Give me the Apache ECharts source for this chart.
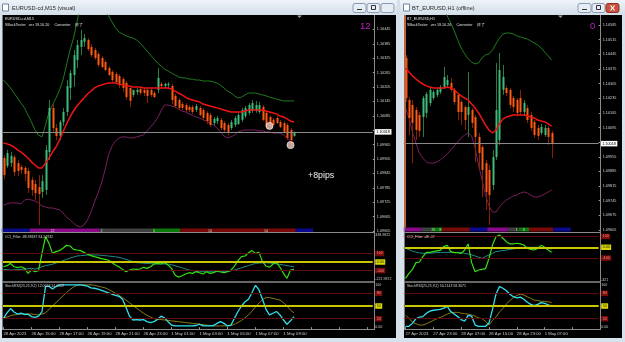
<!DOCTYPE html>
<html><head><meta charset="utf-8">
<script src="https://cdn.jsdelivr.net/npm/echarts@6/dist/echarts.min.js"></script>
<style>html,body{margin:0;padding:0;background:#d5dfea;overflow:hidden}#c{width:625px;height:342px}</style>
</head><body><div id="c"></div>
<script>
// ---------------- DATA ----------------
const BASE = 1.09605;
// Left: EURUSD-cd M15, bars [open, high, low, close]
const leftOHLC = [
[1.09909,1.09922,1.09822,1.09838],[1.09876,1.09943,1.09868,1.09930],[1.09888,1.09934,1.09872,1.09918],[1.09913,1.09922,1.09834,1.09851],
[1.09888,1.09901,1.09834,1.09855],[1.09872,1.09880,1.09843,1.09859],[1.09868,1.09876,1.09813,1.09843],[1.09855,1.09868,1.09763,1.09784],
[1.09818,1.09830,1.09751,1.09776],[1.09801,1.09818,1.09734,1.09763],[1.09788,1.09838,1.09630,1.09759],[1.09768,1.09838,1.09743,1.09813],
[1.09776,1.09963,1.09755,1.09943],[1.09934,1.10151,1.09901,1.10118],[1.10118,1.10134,1.10018,1.10034],[1.10034,1.10051,1.09984,1.10001],
[1.10001,1.10068,1.09984,1.10059],[1.10059,1.10118,1.10043,1.10101],[1.10101,1.10234,1.10084,1.10209],[1.10201,1.10276,1.10151,1.10263],
[1.10255,1.10359,1.10205,1.10338],[1.10318,1.10401,1.10284,1.10380],[1.10372,1.10443,1.10338,1.10401],[1.10393,1.10426,1.10372,1.10409],
[1.10401,1.10409,1.10355,1.10363],[1.10372,1.10384,1.10330,1.10338],[1.10359,1.10368,1.10318,1.10326],[1.10343,1.10351,1.10288,1.10297],
[1.10326,1.10334,1.10284,1.10288],[1.10309,1.10318,1.10272,1.10276],[1.10284,1.10293,1.10251,1.10255],[1.10268,1.10276,1.10226,1.10234],
[1.10259,1.10268,1.10218,1.10226],[1.10251,1.10259,1.10201,1.10213],[1.10238,1.10247,1.10184,1.10201],[1.10222,1.10230,1.10151,1.10163],
[1.10201,1.10209,1.10122,1.10147],[1.10172,1.10184,1.10163,1.10193],[1.10184,1.10201,1.10172,1.10193],[1.10197,1.10205,1.10172,1.10180],
[1.10193,1.10201,1.10168,1.10180],[1.10193,1.10201,1.10138,1.10168],[1.10193,1.10201,1.10163,1.10172],[1.10180,1.10188,1.10159,1.10163],
[1.10193,1.10284,1.10180,1.10243],[1.10218,1.10226,1.10201,1.10209],[1.10209,1.10222,1.10197,1.10218],[1.10213,1.10226,1.10201,1.10218],
[1.10209,1.10218,1.10134,1.10151],[1.10168,1.10176,1.10118,1.10126],[1.10151,1.10159,1.10109,1.10118],[1.10134,1.10143,1.10109,1.10118],
[1.10130,1.10138,1.10101,1.10109],[1.10122,1.10130,1.10101,1.10109],[1.10122,1.10130,1.10093,1.10101],[1.10109,1.10134,1.10101,1.10126],
[1.10118,1.10126,1.10084,1.10088],[1.10109,1.10118,1.10068,1.10076],[1.10097,1.10105,1.10051,1.10063],[1.10088,1.10097,1.10038,1.10047],
[1.10055,1.10080,1.10043,1.10072],[1.10063,1.10084,1.10051,1.10076],[1.10068,1.10076,1.10026,1.10034],[1.10055,1.10063,1.10018,1.10026],
[1.10047,1.10055,1.10005,1.10018],[1.10034,1.10068,1.10026,1.10059],[1.10047,1.10084,1.10038,1.10076],[1.10051,1.10097,1.10047,1.10088],
[1.10068,1.10118,1.10059,1.10109],[1.10084,1.10126,1.10076,1.10118],[1.10097,1.10138,1.10088,1.10130],[1.10105,1.10151,1.10097,1.10138],
[1.10105,1.10147,1.10097,1.10130],[1.10101,1.10143,1.10093,1.10130],[1.10122,1.10130,1.10063,1.10068],[1.10097,1.10105,1.10034,1.10043],
[1.10080,1.10088,1.10030,1.10038],[1.10068,1.10076,1.10043,1.10047],[1.10076,1.10084,1.10051,1.10055],[1.10059,1.10068,1.10034,1.10038],
[1.10055,1.10063,1.10013,1.10018],[1.10047,1.10055,1.09984,1.09993],[1.10026,1.10034,1.09959,1.09984],[1.10001,1.10018,1.09997,1.10018]
];
const leftMA = [1.09972,1.09968,1.09963,1.09955,1.09943,1.09934,1.09922,1.09909,1.09893,1.09880,
1.09868,1.09868,1.09888,1.09909,1.09934,1.09955,1.09984,1.10018,1.10051,1.10080,
1.10105,1.10126,1.10143,1.10159,1.10176,1.10188,1.10201,1.10209,1.10213,1.10218,
1.10222,1.10222,1.10222,1.10218,1.10213,1.10209,1.10209,1.10205,1.10205,1.10205,
1.10201,1.10201,1.10201,1.10201,1.10201,1.10201,1.10201,1.10201,1.10197,1.10188,
1.10180,1.10172,1.10163,1.10155,1.10151,1.10147,1.10143,1.10134,1.10130,1.10126,
1.10122,1.10118,1.10113,1.10109,1.10105,1.10101,1.10101,1.10101,1.10101,1.10105,
1.10109,1.10109,1.10109,1.10109,1.10109,1.10105,1.10101,1.10097,1.10093,1.10084,
1.10080,1.10072,1.10063,1.10059];
const leftUpper = [1.10234,1.10218,1.10201,1.10180,1.10159,1.10138,1.10118,1.10088,1.10059,1.10026,
1.10005,1.09997,1.10047,1.10101,1.10130,1.10159,1.10193,1.10234,1.10297,1.10359,
1.10409,1.10476,1.10547,1.10588,1.10618,1.10630,1.10618,1.10588,1.10555,1.10526,
1.10501,1.10476,1.10451,1.10434,1.10426,1.10418,1.10413,1.10409,1.10401,1.10388,
1.10372,1.10355,1.10338,1.10322,1.10305,1.10293,1.10280,1.10272,1.10263,1.10255,
1.10247,1.10243,1.10243,1.10238,1.10238,1.10234,1.10234,1.10230,1.10230,1.10230,
1.10226,1.10222,1.10213,1.10201,1.10188,1.10180,1.10168,1.10159,1.10163,1.10172,
1.10180,1.10180,1.10180,1.10176,1.10172,1.10168,1.10163,1.10159,1.10155,1.10151,
1.10147,1.10147,1.10147,1.10147];
const leftLower = [1.09713,1.09718,1.09722,1.09722,1.09722,1.09718,1.09734,1.09738,1.09734,1.09730,
1.09722,1.09709,1.09705,1.09701,1.09701,1.09697,1.09693,1.09680,1.09663,1.09651,
1.09638,1.09626,1.09622,1.09630,1.09651,1.09684,1.09726,1.09763,1.09805,1.09859,
1.09922,1.09959,1.09980,1.09993,1.09997,1.09997,1.09993,1.09993,1.09997,1.10001,
1.10005,1.10022,1.10038,1.10055,1.10076,1.10105,1.10130,1.10130,1.10126,1.10122,
1.10113,1.10105,1.10101,1.10093,1.10088,1.10080,1.10076,1.10068,1.10063,1.10055,
1.10047,1.10034,1.10018,1.10001,1.09993,1.09997,1.10005,1.10018,1.10022,1.10026,
1.10026,1.10026,1.10026,1.10022,1.10022,1.10018,1.10018,1.10013,1.10013,1.10013,
1.10005,1.09993,1.09980,1.09972];
const leftSignals = [[76, 1.10043], [82, 1.09963]];
const leftCCI = [-55,-43,-16,-55,-66,-55,-74,-133,-94,-113,-101,101,296,218,101,121,133,160,195,187,
148,140,133,113,90,74,62,51,39,31,20,-8,-35,-55,-86,-113,-94,-82,-86,-82,
-62,-74,-55,-23,-16,-23,-8,-35,-74,-152,-179,-160,-140,-125,-133,-113,-125,-140,-113,-133,
-125,-105,-117,-125,-113,-94,-47,16,62,70,109,133,101,113,4,-47,-62,-23,-8,-62,-133,-191,-94,-86];
const leftCCISig = [-86,-90,-94,-92,-88,-86,-82,-78,-74,-84,-70,-55,-42,-35,-26,-12,0,15,31,45,
58,70,74,78,82,83,83,82,78,74,70,65,60,55,43,31,18,5,-8,-11,
-14,-16,-19,-21,-23,-23,-23,-23,-33,-44,-55,-68,-81,-94,-100,-107,-113,-113,-113,-113,
-113,-113,-113,-113,-113,-104,-94,-81,-68,-55,-42,-29,-16,-13,-10,-8,-12,-16,-22,-28,-35,-42,-49,-55];
const leftStoch = [21,34,44,36,31,33,30,31,25,23,26,37,96,97,90,96,100,100,100,100,
100,100,100,99,97,93,92,90,87,84,81,78,75,73,66,47,26,17,18,17,
18,13,11,13,18,26,22,13,5,3,3,3,3,3,3,4,7,3,3,3,
4,9,13,9,3,5,21,37,50,60,66,82,99,88,66,42,29,33,37,29,17,7,15,25];
const leftStochSig = [21,24,27,29,30,31,31,31,31,30,29,31,34,42,50,58,66,74,82,89,
95,99,100,100,100,100,99,97,95,93,89,85,80,75,70,64,58,51,45,39,
33,28,24,20,19,18,17,16,15,14,13,12,11,10,9,8,7,6,5,4,
3,3,3,3,3,4,7,11,16,22,29,38,48,57,65,70,70,68,66,64,58,50,40,34];
const leftTimeLabels = ['28 Apr 2023','28 Apr 15:00','28 Apr 17:00','28 Apr 19:00','28 Apr 21:00','28 Apr 23:00',
  '1 May 01:00','1 May 03:00','1 May 05:00','1 May 07:00','1 May 09:00'];
// session strip: [start bar, end bar, kind]
const leftSegments = [[0,8,0],[8,28,1],[28,43,2],[43,51,3],[51,84,4],[84,89,0]];
const leftSegLabelPos = [14, 28, 43, 59, 75];
const leftSegLabelText = ['22', '2', '5', '10', '14'];
const leftCCIRange = [-221.9872, 338.9825];

// Right: BT_EURUSD H1
const rightOHLC = [
[1.10428,1.10442,1.10217,1.10236],[1.10227,1.10241,1.10059,1.10141],[1.10203,1.10227,1.09925,1.10117],[1.10179,1.10193,1.10035,1.10083],
[1.10155,1.10169,1.10050,1.10079],[1.10145,1.10246,1.10050,1.10236],[1.10165,1.10265,1.10141,1.10255],[1.10212,1.10284,1.10198,1.10275],
[1.10236,1.10275,1.10227,1.10265],[1.10251,1.10284,1.10241,1.10275],[1.10265,1.10298,1.10255,1.10289],[1.10289,1.10385,1.10279,1.10337],
[1.10298,1.10346,1.10284,1.10322],[1.10308,1.10332,1.10265,1.10275],[1.10275,1.10284,1.10203,1.10217],[1.10251,1.10260,1.10131,1.10169],
[1.10217,1.10227,1.10107,1.10169],[1.10193,1.10203,1.10083,1.10131],[1.10155,1.10361,1.10050,1.10193],[1.10179,1.10188,1.10093,1.10117],
[1.10145,1.10155,1.09930,1.10050],[1.10050,1.10069,1.09892,1.09973],[1.10002,1.10012,1.09763,1.09892],[1.09925,1.09940,1.09701,1.09787],
[1.09892,1.09916,1.09629,1.09772],[1.09820,1.09988,1.09796,1.09954],[1.09954,1.10404,1.09940,1.10179],[1.10035,1.10452,1.10012,1.10370],
[1.10275,1.10394,1.10251,1.10337],[1.10284,1.10294,1.10246,1.10260],[1.10275,1.10284,1.10188,1.10203],[1.10236,1.10246,1.10169,1.10193],
[1.10227,1.10236,1.10150,1.10165],[1.10236,1.10275,1.10155,1.10169],[1.10169,1.10227,1.10155,1.10212],[1.10188,1.10203,1.10117,1.10131],
[1.10155,1.10169,1.10079,1.10093],[1.10122,1.10131,1.10045,1.10059],[1.10093,1.10107,1.10035,1.10055],[1.10069,1.10112,1.10059,1.10098],
[1.10059,1.10107,1.10050,1.10093],[1.10093,1.10102,1.10012,1.10050],[1.10069,1.10079,1.09949,1.10018]
];
const rightMA = [1.10380,1.10361,1.10342,1.10327,1.10313,1.10303,1.10294,1.10289,1.10284,1.10284,
1.10284,1.10284,1.10289,1.10284,1.10275,1.10260,1.10246,1.10236,1.10227,1.10208,
1.10188,1.10165,1.10136,1.10107,1.10083,1.10069,1.10083,1.10112,1.10136,1.10145,
1.10150,1.10155,1.10155,1.10155,1.10155,1.10150,1.10145,1.10141,1.10131,1.10126,
1.10122,1.10112,1.10102];
const rightUpper = [1.10992,1.10968,1.10944,1.10915,1.10882,1.10848,1.10810,1.10777,1.10743,1.10710,
1.10681,1.10657,1.10628,1.10595,1.10557,1.10514,1.10475,1.10447,1.10423,1.10408,
1.10399,1.10404,1.10428,1.10442,1.10447,1.10466,1.10495,1.10523,1.10542,1.10547,
1.10547,1.10542,1.10533,1.10528,1.10523,1.10518,1.10509,1.10499,1.10490,1.10475,
1.10456,1.10437,1.10418];
const rightLower = [1.10188,1.10141,1.10074,1.10021,1.09973,1.09949,1.09930,1.09925,1.09925,1.09930,
1.09940,1.09954,1.09968,1.09988,1.10007,1.10026,1.10045,1.10059,1.10069,1.10055,
1.09997,1.09916,1.09844,1.09772,1.09720,1.09691,1.09691,1.09715,1.09734,1.09748,
1.09758,1.09768,1.09772,1.09782,1.09787,1.09782,1.09772,1.09763,1.09763,1.09768,
1.09777,1.09787,1.09796];
const rightCCI = [-287,-241,-204,-142,-136,-87,-47,-47,-40,-34,-28,6,18,-40,-50,-50,-56,-25,31,-142,
-226,-210,-204,-198,-102,21,98,114,83,52,31,31,37,31,21,-10,-19,-25,-10,18,0,-25,-47];
const rightCCISig = [-10,-22,-35,-45,-52,-56,-56,-55,-52,-50,-48,-47,-47,-47,-47,-48,-50,-56,-62,-70,
-81,-92,-102,-85,-71,-56,-40,-35,-30,-25,-20,-15,-10,-5,-2,0,0,0,0,-2,-5,-10,-17];
const rightStoch = [2,2,9,20,24,25,33,38,40,41,42,45,49,37,31,25,18,14,28,26,
5,2,2,2,10,42,78,96,92,86,78,72,69,71,66,59,54,51,54,58,56,53,50];
const rightStochSig = [28,21,12,8,5,5,8,12,16,20,23,27,31,34,35,35,33,32,31,29,
26,22,20,14,5,16,24,36,44,55,63,70,75,78,76,72,68,64,63,61,61,60,58];
const rightTimeLabels = ['27 Apr 2023','27 Apr 23:00','28 Apr 07:00','28 Apr 15:00','28 Apr 23:00','1 May 07:00'];
const rightSegments = [[0,5,1],[5,8,2],[8,11,3],[11,19,4],[19,24,0],[24,30,1],[30,33,2],[33,36,3],[36,43,4],[43,48,0]];
const rightSegLabelPos = [8, 10, 32, 34];
const rightSegLabelText = ['20', '8', '1', '8'];
const rightCCIRange = [-321, 132];
const stochRange = [-4.3, 104.4];

// ---------------- RENDER ----------------
const FONT = '"Liberation Sans", Arial, sans-serif';
const SEG_COLORS = ['#0a0a8c', '#8a0a8a', '#404040', '#0a7a0a', '#7a0a0a'];
const BASE_I = Math.round(BASE * 1e5);
const toPts = p => Math.round((p - BASE) * 1e6) / 10;
const fmtPrice = v => ((BASE_I + v) / 1e5).toFixed(5);

function candleRender(params, api) {
  const i = api.value(0), o = api.value(1), h = api.value(2), l = api.value(3), c = api.value(4);
  const po = api.coord([i, o]), ph = api.coord([i, h]), pl = api.coord([i, l]), pc = api.coord([i, c]);
  const x = Math.round(po[0]);
  const bull = c >= o;
  const top = Math.min(po[1], pc[1]), bot = Math.max(po[1], pc[1]);
  return {type: 'group', children: [
    {type: 'line', shape: {x1: x + 0.5, y1: ph[1], x2: x + 0.5, y2: pl[1]},
     style: {stroke: bull ? '#2a7a45' : '#8a2200', lineWidth: 1}},
    {type: 'rect', shape: {x: x - 0.5, y: top, width: 2, height: Math.max(1, bot - top)},
     style: {fill: bull ? '#3dbb7a' : '#ff5a12'}}
  ]};
}
function segRender(params, api) {
  const s = api.value(0), e = api.value(1), k = api.value(2);
  const w = api.size([1, 0])[0];
  const cs = params.coordSys;
  const x1 = api.coord([s, 0])[0] - w / 2;
  const x2 = api.coord([e - 1, 0])[0] + w / 2;
  return {type: 'rect', shape: {x: x1, y: cs.y + cs.height - 2.5, width: x2 - x1, height: 4},
          style: {fill: SEG_COLORS[k]}};
}
function makeSegLabel(texts) {
  return function (params, api) {
    const p = api.coord([api.value(0), 0]);
    const cs = params.coordSys;
    return {type: 'text', x: p[0], y: cs.y + cs.height - 0.5,
      style: {text: texts[params.dataIndex], fill: '#d0d0d0', font: '3.6px "Liberation Sans"',
              align: 'center', verticalAlign: 'middle', textAlign: 'center', textVerticalAlign: 'middle'}};
  };
}
function timeFmt(labels) {
  return (val, idx) => (idx % 8 === 0 && labels[idx / 8]) ? labels[idx / 8] : '';
}
function xa(grid, n, labels) {
  const cats = Array.from({length: n}, (_, i) => i);
  return {type: 'category', gridIndex: grid, data: cats, boundaryGap: true,
    axisLine: {show: false}, splitLine: {show: false},
    axisTick: labels ? {show: true, alignWithLabel: true, interval: (i) => i % 8 === 0, length: 2,
                        lineStyle: {color: '#9a9a9a'}} : {show: false},
    axisLabel: labels ? {show: true, interval: 0, formatter: timeFmt(labels), align: 'left', margin: 2.5,
                        fontSize: 4.2, color: '#c8c8c8', fontFamily: FONT, hideOverlap: false} : {show: false}};
}
function priceAxis(grid, max, interval, curPts) {
  return {type: 'value', gridIndex: grid, position: 'right', min: 0, max: max, interval: interval,
    splitLine: {show: false}, axisLine: {show: false},
    axisTick: {show: true, length: 2, lineStyle: {color: '#9a9a9a'}},
    axisLabel: {show: true, showMaxLabel: false, showMinLabel: true, margin: 4, fontSize: 3.8, color: '#d2d2d2',
      fontFamily: FONT, formatter: v => Math.abs(v - curPts) < 15 ? '' : fmtPrice(v)}};
}
function hiddenAxis(grid, range) {
  return {type: 'value', gridIndex: grid, min: range[0], max: range[1], show: false,
          splitLine: {show: false}};
}
function lineS(xi, yi, data, color, width, z, extra) {
  return Object.assign({type: 'line', xAxisIndex: xi, yAxisIndex: yi, data: data, showSymbol: false,
    symbol: 'none', silent: true, clip: true, z: z, lineStyle: {color: color, width: width}}, extra || {});
}
const boxRed = {show: true, position: 'end', distance: 2.5, backgroundColor: '#7a0c0c', color: '#ff9090',
  fontSize: 3.6, fontFamily: FONT, padding: [1, 1.5, 0.5, 1.5]};
const boxYel = {show: true, position: 'end', distance: 2.5, backgroundColor: '#d8d800', color: '#202000',
  fontSize: 3.6, fontFamily: FONT, padding: [1, 1.5, 0.5, 1.5]};
const plainLbl = {show: true, position: 'end', distance: 2.5, color: '#c8c8c8', fontSize: 3.6, fontFamily: FONT};
const redLine = {color: '#5e0c0c', width: 1, type: 'solid'};
const yelLine = {color: '#c8c800', width: 2, type: 'solid'};
const noLine = {color: 'rgba(0,0,0,0)', width: 0};
function levelMark(items) {
  return {silent: true, symbol: 'none', animation: false, precision: 4, data: items};
}
function cciLevels(range) {
  return levelMark([
    {yAxis: 100, lineStyle: redLine, label: Object.assign({}, boxRed, {formatter: '100'})},
    {yAxis: 0, lineStyle: yelLine, label: Object.assign({}, boxYel, {formatter: '0.00'})},
    {yAxis: -100, lineStyle: redLine, label: Object.assign({}, boxRed, {formatter: '-100'})},
    {yAxis: range[1], lineStyle: noLine, label: Object.assign({}, plainLbl, {formatter: range[1] > 200 ? String(range[1]) : '', verticalAlign: 'top'})},
    {yAxis: range[0], lineStyle: noLine, label: Object.assign({}, plainLbl, {formatter: String(range[0]), verticalAlign: 'bottom'})}
  ]);
}
function stochLevels() {
  return levelMark([
    {yAxis: 80, lineStyle: redLine, label: Object.assign({}, boxRed, {formatter: '80'})},
    {yAxis: 50, lineStyle: yelLine, label: Object.assign({}, boxYel, {formatter: '50'})},
    {yAxis: 20, lineStyle: redLine, label: Object.assign({}, boxRed, {formatter: '20'})},
    {yAxis: 100, lineStyle: noLine, label: Object.assign({}, plainLbl, {formatter: '100'})},
    {yAxis: 0, lineStyle: noLine, label: Object.assign({}, plainLbl, {formatter: '0.00'})}
  ]);
}
function curMark(last) {
  return {silent: true, symbol: 'none', animation: false, data: [{yAxis: toPts(last),
    lineStyle: {color: '#8a8a8a', width: 1, type: 'solid'},
    label: {show: true, position: 'end', distance: 2, formatter: last.toFixed(5), backgroundColor: '#ffffff',
            color: '#000', fontSize: 3.8, fontFamily: FONT, padding: [1, 1.5, 0.5, 1.5]}}]};
}
const toCandles = arr => arr.map((d, i) => [i, toPts(d[0]), toPts(d[1]), toPts(d[2]), toPts(d[3])]);
const leftLast = leftOHLC[leftOHLC.length - 1][3];
const rightLast = rightOHLC[rightOHLC.length - 1][3];

const L = 1.75, LW = 106 * 3.5, R = 403.76, RW = 56 * 3.48;
const grids = [
  {left: L, top: 15, width: LW, height: 216},
  {left: L, top: 233, width: LW, height: 48},
  {left: L, top: 283, width: LW, height: 46},
  {left: R, top: 15, width: RW, height: 215},
  {left: R, top: 233, width: RW, height: 49},
  {left: R, top: 283, width: RW, height: 46}
].map(g => Object.assign({containLabel: false, outerBoundsMode: 'none', show: false}, g));

const series = [
  // LEFT main
  {type: 'custom', xAxisIndex: 0, yAxisIndex: 0, renderItem: segRender, data: leftSegments,
   encode: {x: [0, 1], y: 2}, clip: false, silent: true, z: 6},
  {type: 'custom', xAxisIndex: 0, yAxisIndex: 0, renderItem: makeSegLabel(leftSegLabelText),
   data: leftSegLabelPos.map(p => [p, 0]), encode: {x: 0, y: 1}, clip: false, silent: true, z: 7},
  lineS(0, 0, leftUpper.map(toPts), '#1f7a1f', 1, 3),
  lineS(0, 0, leftLower.map(toPts), '#7a1f5e', 1, 3),
  {type: 'custom', xAxisIndex: 0, yAxisIndex: 0, renderItem: candleRender, data: toCandles(leftOHLC),
   encode: {x: 0, y: [1, 2, 3, 4]}, clip: true, silent: true, z: 4, markLine: curMark(leftLast)},
  lineS(0, 0, leftMA.map(toPts), '#f01414', 1.5, 5),
  {type: 'scatter', xAxisIndex: 0, yAxisIndex: 0, data: leftSignals.map(d => [d[0], toPts(d[1])]),
   symbol: 'circle', symbolSize: 7, silent: true, z: 6,
   itemStyle: {color: '#d6b4aa', borderColor: '#eadcd8', borderWidth: 1, opacity: 0.9}},
  // LEFT CCI
  lineS(1, 1, leftCCISig, '#1e8a8a', 1, 3, {markLine: cciLevels(leftCCIRange)}),
  lineS(1, 1, leftCCI, '#33e010', 1.2, 4),
  // LEFT Stoch
  lineS(2, 2, leftStochSig, '#8a7a10', 1, 3, {markLine: stochLevels()}),
  lineS(2, 2, leftStoch, '#30e0f0', 1.3, 4),
  // RIGHT main
  {type: 'custom', xAxisIndex: 3, yAxisIndex: 3, renderItem: segRender, data: rightSegments,
   encode: {x: [0, 1], y: 2}, clip: false, silent: true, z: 6},
  {type: 'custom', xAxisIndex: 3, yAxisIndex: 3, renderItem: makeSegLabel(rightSegLabelText),
   data: rightSegLabelPos.map(p => [p, 0]), encode: {x: 0, y: 1}, clip: false, silent: true, z: 7},
  lineS(3, 3, rightUpper.map(toPts), '#1f7a1f', 1, 3),
  lineS(3, 3, rightLower.map(toPts), '#7a1f5e', 1, 3),
  {type: 'custom', xAxisIndex: 3, yAxisIndex: 3, renderItem: candleRender, data: toCandles(rightOHLC),
   encode: {x: 0, y: [1, 2, 3, 4]}, clip: true, silent: true, z: 4,
   markLine: {silent: true, symbol: 'none', animation: false, data: [
     {yAxis: toPts(rightLast), lineStyle: {color: '#8a8a8a', width: 1, type: 'solid'},
      label: {show: true, position: 'end', distance: 2, formatter: rightLast.toFixed(5), backgroundColor: '#ffffff',
              color: '#000', fontSize: 3.8, fontFamily: FONT, padding: [1, 1.5, 0.5, 1.5]}},
     {xAxis: 0, lineStyle: {color: '#ff4a10', width: 1, type: 'solid'}, label: {show: false}}]}},
  lineS(3, 3, rightMA.map(toPts), '#f01414', 1.5, 5),
  // RIGHT CCI
  lineS(4, 4, rightCCISig, '#1e8a8a', 1, 3, {markLine: cciLevels(rightCCIRange)}),
  lineS(4, 4, rightCCI, '#33e010', 1.2, 4),
  // RIGHT Stoch
  lineS(5, 5, rightStochSig, '#8a7a10', 1, 3, {markLine: stochLevels()}),
  lineS(5, 5, rightStoch, '#30e0f0', 1.3, 4)
];

function txt(x, y, s, size, color, extra) {
  return Object.assign({type: 'text', x: x, y: y, z: 100, silent: true,
    style: {text: s, fill: color, font: size + 'px ' + FONT, verticalAlign: 'middle', align: 'left'}}, extra || {});
}
function rect(x, y, w, h, fill, z, stroke) {
  return {type: 'rect', shape: {x: x, y: y, width: w, height: h}, z: z, silent: true,
          style: {fill: fill, stroke: stroke || null, lineWidth: stroke ? 1 : 0}};
}
function ln(x1, y1, x2, y2, color, w, z) {
  return {type: 'line', shape: {x1: x1, y1: y1, x2: x2, y2: y2}, z: z || 50, silent: true,
          style: {stroke: color, lineWidth: w || 1}};
}
const titleGrad = {type: 'linear', x: 0, y: 0, x2: 0, y2: 1,
  colorStops: [{offset: 0, color: '#eef3f8'}, {offset: 1, color: '#d3dee9'}]};
function button(x, kind) {
  const els = [{type: 'rect', shape: {x: x, y: 3.5, width: 13, height: 9, r: 2}, z: 60, silent: true,
    style: {fill: kind === 'close' ? '#c8513f' : '#e6edf5', stroke: kind === 'close' ? '#8e3024' : '#8a9bb2', lineWidth: 1}}];
  if (kind === 'min') els.push(ln(x + 4, 9.5, x + 9, 9.5, '#333', 1, 61));
  if (kind === 'max') els.push({type: 'rect', shape: {x: x + 4.5, y: 5.5, width: 4, height: 4}, z: 61, silent: true,
    style: {fill: 'none', stroke: '#333', lineWidth: 1}});
  if (kind === 'close') { els.push(ln(x + 4.5, 5.5, x + 8.5, 10.5, '#fff', 1.2, 61)); els.push(ln(x + 8.5, 5.5, x + 4.5, 10.5, '#fff', 1.2, 61)); }
  return els;
}
const HDR2 = 'SBackTester   ver 19.10.20     Converter    終了';
const graphic = [].concat(
  // left window
  [rect(0, 0, 397, 342, '#d8e2ed', -20, null),
   {type: 'rect', shape: {x: 0, y: 0, width: 397, height: 15}, z: -19, silent: true, style: {fill: titleGrad}},
   rect(2.5, 4, 6, 7, '#ffffff', 60, '#6f86a3'),
   txt(12, 8, 'EURUSD-cd,M15 (visual)', 5.6, '#2a2a2a'),
   rect(2, 15, 394, 323, '#000000', -10, null)],
  button(353, 'min'), button(367, 'max'), button(381, 'plain'),
  // right window
  [rect(400, 0, 225, 342, '#d8e2ed', -20, null),
   {type: 'rect', shape: {x: 400, y: 0, width: 225, height: 15}, z: -19, silent: true, style: {fill: titleGrad}},
   rect(403.5, 4, 6, 7, '#ffffff', 60, '#6f86a3'),
   txt(412, 8, 'BT_EURUSD,H1 (offline)', 5.6, '#2a2a2a'),
   rect(404, 15, 218, 323, '#000000', -10, null)],
  button(578, 'min'), button(592, 'max'), button(606, 'close'),
  // separators left
  [ln(2.5, 15, 2.5, 330, '#7a7a7a', 1), ln(374.5, 15, 374.5, 330, '#8a8a8a', 1),
   ln(2, 232.5, 375, 232.5, '#8a8a8a', 1), ln(2, 282, 375, 282, '#8a8a8a', 1.5), ln(2, 329.5, 375, 329.5, '#8a8a8a', 1),
   // separators right
   ln(404.5, 15, 404.5, 330, '#7a7a7a', 1), ln(600.5, 15, 600.5, 330, '#8a8a8a', 1),
   ln(404, 232.5, 601, 232.5, '#8a8a8a', 1), ln(404, 282, 601, 282, '#8a8a8a', 1.5), ln(404, 329.5, 601, 329.5, '#8a8a8a', 1),
   // shift markers
   {type: 'polygon', shape: {points: [[297, 15.5], [302, 15.5], [299.5, 18]]}, z: 60, silent: true, style: {fill: '#9a9a9a'}},
   {type: 'polygon', shape: {points: [[558, 15.5], [563, 15.5], [560.5, 18]]}, z: 60, silent: true, style: {fill: '#9a9a9a'}},
   // chart header texts
   txt(5, 18.5, 'EURUSD-cd,M15', 3.7, '#e0e0e0'),
   txt(5, 24.5, HDR2, 3.7, '#e0e0e0'),
   txt(407, 18.5, 'BT_EURUSD,H1', 3.7, '#e0e0e0'),
   txt(407, 24.5, HDR2, 3.7, '#e0e0e0'),
   txt(360, 26, '12', 9.5, '#c41ec4'),
   txt(590, 26, '0', 9.5, '#c41ec4'),
   txt(308, 175.5, '+8pips', 8.8, '#f2f2f2'),
   txt(5, 237, 'CCI_Filter -88.98187 84.24932', 3.5, '#cfcfcf'),
   txt(5, 286.5, 'StochRSI(25,25,9,2) 12.0663 14.0349', 3.5, '#cfcfcf'),
   txt(407, 237, 'CCI_Filter -48 -17', 3.5, '#cfcfcf'),
   txt(407, 286.5, 'StochRSI(25,25,9,2) 50.2143 58.3071', 3.5, '#cfcfcf')]
);

const option = {
  animation: false,
  backgroundColor: 'transparent',
  grid: grids,
  xAxis: [xa(0, 106, null), xa(1, 106, null), xa(2, 106, leftTimeLabels),
          xa(3, 56, null), xa(4, 56, null), xa(5, 56, rightTimeLabels)],
  yAxis: [priceAxis(0, 900, 60, toPts(leftLast)), hiddenAxis(1, leftCCIRange), hiddenAxis(2, stochRange),
          priceAxis(3, 1028, 70, toPts(rightLast)), hiddenAxis(4, rightCCIRange), hiddenAxis(5, stochRange)],
  series: series,
  graphic: {elements: graphic}
};
const chart = echarts.init(document.getElementById('c'), null, {renderer: 'canvas'});
chart.setOption(option);
</script></body></html>
